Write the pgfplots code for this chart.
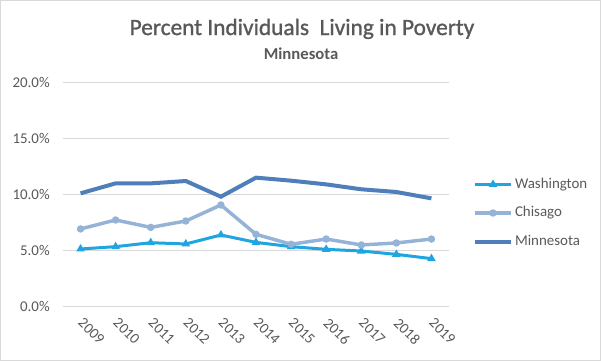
\documentclass[border=0pt]{standalone}
\usepackage{pgfplots}
\pgfplotsset{compat=1.18}
\usepackage{fontspec}
\setmainfont{Carlito}
\newfontfamily\titlefont[FakeBold=1.2]{Carlito}
\definecolor{txt}{HTML}{595959}
\definecolor{gridc}{HTML}{D9D9D9}
\definecolor{wash}{HTML}{1FA5E0}
\definecolor{chis}{HTML}{95B3D7}
\definecolor{minn}{HTML}{4F7FBA}
\begin{document}
\begin{tikzpicture}
\begin{scope}[x=0.75pt,y=-0.75pt]
\draw[gridc, line width=0.75pt] (0.5,0.5) rectangle (600.5,360.5);
\node[anchor=base, text=txt, inner sep=0pt, font=\titlefont\fontsize{17.5}{20}\selectfont] at (302,35) {Percent Individuals\ \ Living in Poverty};
\node[anchor=base, text=txt, inner sep=0pt, font=\fontsize{12.5}{15}\selectfont\bfseries] at (301,59) {Minnesota};
\end{scope}
\begin{axis}[
  at={(47.25pt,-229.5pt)}, anchor=south west,
  width=289.5pt, height=168pt, scale only axis,
  xmin=2008.5, xmax=2019.5, ymin=0, ymax=20,
  xtick={2009,2010,2011,2012,2013,2014,2015,2016,2017,2018,2019},
  xticklabels={2009,2010,2011,2012,2013,2014,2015,2016,2017,2018,2019},
  ytick={0,5,10,15,20},
  yticklabels={0.0\%,5.0\%,10.0\%,15.0\%,20.0\%},
  major tick length=0pt,
  axis line style={draw=none},
  ymajorgrids, grid style={gridc, line width=0.75pt},
  tick label style={font=\fontsize{11.2}{13}\selectfont, text=txt},
  xticklabel style={rotate=-45, anchor=north west, inner sep=0pt, xshift=7.6pt, yshift=-3.7pt},
  yticklabel style={anchor=east, inner sep=0pt, xshift=-9.75pt},
  legend style={at={(1.0622,0.4152)}, anchor=west, draw=none, fill=none,
    inner sep=0pt, outer sep=0pt, row sep=10.9pt,
    font=\fontsize{11.2}{13}\selectfont, text=txt,
    nodes={text height=8pt, text depth=2.5pt, inner ysep=0pt, inner xsep=1.5pt}},
  legend cell align=left,
  legend image code/.code={\draw[mark repeat=2,mark phase=2,#1] plot coordinates {(0pt,0pt) (13.5pt,0pt) (27pt,0pt)};},
  clip=false,
]
\addplot[wash, line width=2.25pt, mark=triangle*, mark size=3pt, mark options={solid, fill=wash, line width=0.75pt}]
 coordinates {(2009,5.09) (2010,5.30) (2011,5.65) (2012,5.54) (2013,6.34) (2014,5.68) (2015,5.30) (2016,5.06) (2017,4.91) (2018,4.61) (2019,4.23)};
\addlegendentry{Washington}
\addplot[chis, line width=2.6pt, mark=*, mark size=2.4pt, mark options={solid, fill=chis, line width=0.75pt}]
 coordinates {(2009,6.88) (2010,7.68) (2011,7.02) (2012,7.59) (2013,9.02) (2014,6.40) (2015,5.51) (2016,5.98) (2017,5.45) (2018,5.63) (2019,5.98)};
\addlegendentry{Chisago}
\addplot[minn, line width=3pt, mark=none]
 coordinates {(2009,10.06) (2010,10.95) (2011,10.95) (2012,11.16) (2013,9.76) (2014,11.46) (2015,11.19) (2016,10.86) (2017,10.42) (2018,10.18) (2019,9.61)};
\addlegendentry{Minnesota}
\end{axis}
\end{tikzpicture}
\end{document}
